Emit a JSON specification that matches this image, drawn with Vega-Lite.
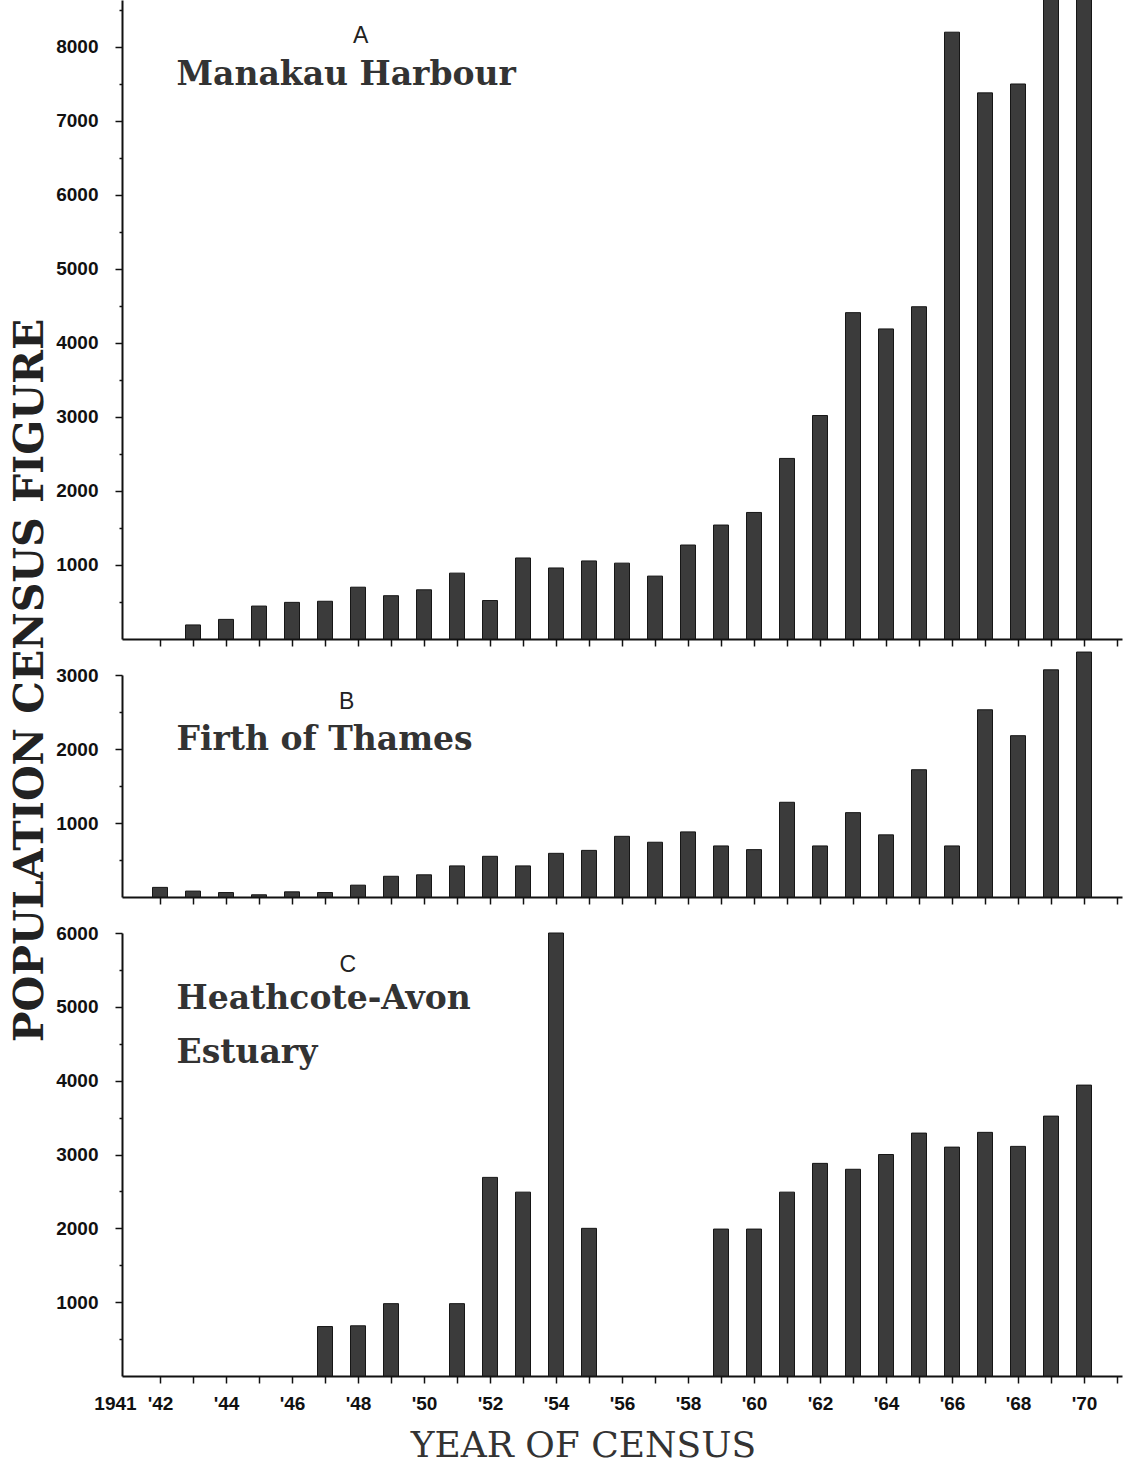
{
  "$schema": "https://vega.github.io/schema/vega-lite/v6.json",
  "background": "white",
  "padding": {"left": 8, "top": 0, "right": 4, "bottom": 4},
  "bounds": "flush",
  "spacing": 36,
  "config": {
    "view": {"stroke": null},
    "axis": {
      "grid": false,
      "domainColor": "#111111",
      "domainWidth": 2,
      "tickColor": "#111111",
      "tickWidth": 1.5,
      "labelFont": "Liberation Sans",
      "labelFontWeight": "bold",
      "labelFontSize": 19,
      "labelColor": "#111111",
      "labelOverlap": false,
      "labelFlush": false,
      "titleFont": "DejaVu Serif",
      "titleColor": "#222222"
    }
  },
  "datasets": {
    "manakau": [
      {"year": 1943, "count": 190}, {"year": 1944, "count": 265}, {"year": 1945, "count": 445},
      {"year": 1946, "count": 495}, {"year": 1947, "count": 510}, {"year": 1948, "count": 700},
      {"year": 1949, "count": 585}, {"year": 1950, "count": 665}, {"year": 1951, "count": 890},
      {"year": 1952, "count": 520}, {"year": 1953, "count": 1095}, {"year": 1954, "count": 960},
      {"year": 1955, "count": 1055}, {"year": 1956, "count": 1025}, {"year": 1957, "count": 850},
      {"year": 1958, "count": 1270}, {"year": 1959, "count": 1540}, {"year": 1960, "count": 1710},
      {"year": 1961, "count": 2440}, {"year": 1962, "count": 3020}, {"year": 1963, "count": 4410},
      {"year": 1964, "count": 4190}, {"year": 1965, "count": 4490}, {"year": 1966, "count": 8200},
      {"year": 1967, "count": 7380}, {"year": 1968, "count": 7500}, {"year": 1969, "count": 8900},
      {"year": 1970, "count": 9000}
    ],
    "thames": [
      {"year": 1942, "count": 130}, {"year": 1943, "count": 80}, {"year": 1944, "count": 60},
      {"year": 1945, "count": 30}, {"year": 1946, "count": 70}, {"year": 1947, "count": 60},
      {"year": 1948, "count": 160}, {"year": 1949, "count": 280}, {"year": 1950, "count": 300},
      {"year": 1951, "count": 420}, {"year": 1952, "count": 550}, {"year": 1953, "count": 420},
      {"year": 1954, "count": 590}, {"year": 1955, "count": 630}, {"year": 1956, "count": 820},
      {"year": 1957, "count": 740}, {"year": 1958, "count": 880}, {"year": 1959, "count": 690},
      {"year": 1960, "count": 640}, {"year": 1961, "count": 1280}, {"year": 1962, "count": 690},
      {"year": 1963, "count": 1140}, {"year": 1964, "count": 840}, {"year": 1965, "count": 1720},
      {"year": 1966, "count": 690}, {"year": 1967, "count": 2530}, {"year": 1968, "count": 2180},
      {"year": 1969, "count": 3070}, {"year": 1970, "count": 3310}
    ],
    "heathcote": [
      {"year": 1947, "count": 670}, {"year": 1948, "count": 680}, {"year": 1949, "count": 980},
      {"year": 1951, "count": 980}, {"year": 1952, "count": 2690}, {"year": 1953, "count": 2490},
      {"year": 1954, "count": 6000}, {"year": 1955, "count": 2000}, {"year": 1959, "count": 1990},
      {"year": 1960, "count": 1990}, {"year": 1961, "count": 2490}, {"year": 1962, "count": 2880},
      {"year": 1963, "count": 2800}, {"year": 1964, "count": 3000}, {"year": 1965, "count": 3290},
      {"year": 1966, "count": 3100}, {"year": 1967, "count": 3300}, {"year": 1968, "count": 3110},
      {"year": 1969, "count": 3520}, {"year": 1970, "count": 3940}
    ]
  },
  "vconcat": [
    {
      "width": 1000,
      "height": 639,
      "encoding": {
        "x": {
          "field": "year", "type": "quantitative",
          "scale": {"domain": [1941, 1971], "nice": false, "zero": false},
          "axis": {
            "title": null,
            "values": [1941, 1942, 1943, 1944, 1945, 1946, 1947, 1948, 1949, 1950, 1951, 1952, 1953, 1954, 1955, 1956, 1957, 1958, 1959, 1960, 1961, 1962, 1963, 1964, 1965, 1966, 1967, 1968, 1969, 1970, 1971],
            "labels": false,
            "tickSize": 7,
            "tickOpacity": {"condition": {"test": "datum.value == 1941", "value": 0}, "value": 1}
          }
        },
        "y": {
          "field": "count", "type": "quantitative",
          "scale": {"domain": [0, 8635], "nice": false, "zero": true},
          "axis": {
            "title": null,
            "values": [500, 1000, 1500, 2000, 2500, 3000, 3500, 4000, 4500, 5000, 5500, 6000, 6500, 7000, 7500, 8000, 8500],
            "format": "d",
            "labelExpr": "datum.value % 1000 == 0 ? datum.label : ''",
            "tickSize": {"condition": {"test": "datum.value % 1000 != 0", "value": 3}, "value": 7},
            "labelPadding": 17
          }
        }
      },
      "layer": [
        {
          "data": {"name": "manakau"},
          "mark": {"type": "bar", "orient": "vertical", "size": 15, "clip": true, "color": "#3b3b3b", "stroke": "#161616", "strokeWidth": 1}
        },
        {
          "data": {"values": [{"year": 1948.08, "count": 8054, "label": "A"}]},
          "mark": {"type": "text", "font": "Liberation Sans", "fontSize": 23, "align": "center", "baseline": "alphabetic", "color": "#222222"},
          "encoding": {"text": {"field": "label"}}
        },
        {
          "data": {"values": [{"year": 1942.5, "count": 7486, "label": "Manakau Harbour"}]},
          "mark": {"type": "text", "font": "DejaVu Serif", "fontWeight": "bold", "fontSize": 33, "align": "left", "baseline": "alphabetic", "color": "#333333"},
          "encoding": {"text": {"field": "label"}}
        }
      ]
    },
    {
      "width": 1000,
      "height": 222,
      "encoding": {
        "x": {
          "field": "year", "type": "quantitative",
          "scale": {"domain": [1941, 1971], "nice": false, "zero": false},
          "axis": {
            "title": null,
            "values": [1941, 1942, 1943, 1944, 1945, 1946, 1947, 1948, 1949, 1950, 1951, 1952, 1953, 1954, 1955, 1956, 1957, 1958, 1959, 1960, 1961, 1962, 1963, 1964, 1965, 1966, 1967, 1968, 1969, 1970, 1971],
            "labels": false,
            "tickSize": 7,
            "tickOpacity": {"condition": {"test": "datum.value == 1941", "value": 0}, "value": 1}
          }
        },
        "y": {
          "field": "count", "type": "quantitative",
          "scale": {"domain": [0, 3000], "nice": false, "zero": true},
          "axis": {
            "title": "POPULATION CENSUS FIGURE",
            "titleFont": "DejaVu Serif",
            "titleFontWeight": "bold",
            "titleFontSize": 41,
            "titleColor": "#222222",
            "titleAngle": 270,
            "titleAlign": "center",
            "titleBaseline": "top",
            "titleX": -112,
            "titleY": 5,
            "values": [500, 1000, 1500, 2000, 2500, 3000],
            "format": "d",
            "labelExpr": "datum.value % 1000 == 0 ? datum.label : ''",
            "tickSize": {"condition": {"test": "datum.value % 1000 != 0", "value": 3}, "value": 7},
            "labelPadding": 17
          }
        }
      },
      "layer": [
        {
          "data": {"name": "thames"},
          "mark": {"type": "bar", "orient": "vertical", "size": 15, "color": "#3b3b3b", "stroke": "#161616", "strokeWidth": 1}
        },
        {
          "data": {"values": [{"year": 1947.66, "count": 2540, "label": "B"}]},
          "mark": {"type": "text", "font": "Liberation Sans", "fontSize": 23, "align": "center", "baseline": "alphabetic", "color": "#222222"},
          "encoding": {"text": {"field": "label"}}
        },
        {
          "data": {"values": [{"year": 1942.5, "count": 1986, "label": "Firth of Thames"}]},
          "mark": {"type": "text", "font": "DejaVu Serif", "fontWeight": "bold", "fontSize": 33, "align": "left", "baseline": "alphabetic", "color": "#333333"},
          "encoding": {"text": {"field": "label"}}
        }
      ]
    },
    {
      "width": 1000,
      "height": 443,
      "encoding": {
        "x": {
          "field": "year", "type": "quantitative",
          "scale": {"domain": [1941, 1971], "nice": false, "zero": false},
          "axis": {
            "title": "YEAR OF CENSUS",
            "titleFont": "DejaVu Serif",
            "titleFontWeight": "normal",
            "titleFontSize": 36,
            "titleColor": "#333333",
            "titleAlign": "center",
            "titleBaseline": "alphabetic",
            "titleX": 461,
            "titleY": 80,
            "values": [1941, 1942, 1943, 1944, 1945, 1946, 1947, 1948, 1949, 1950, 1951, 1952, 1953, 1954, 1955, 1956, 1957, 1958, 1959, 1960, 1961, 1962, 1963, 1964, 1965, 1966, 1967, 1968, 1969, 1970, 1971],
            "labelExpr": "datum.value == 1941 ? '1941' : (datum.value % 2 == 0 && datum.value < 1971 ? \"'\" + slice(toString(datum.value), 2) : '')",
            "labelPadding": 11,
            "labelOffset": {"condition": {"test": "datum.value == 1941", "value": -12}, "value": 0},
            "tickSize": 7,
            "tickOpacity": {"condition": {"test": "datum.value == 1941", "value": 0}, "value": 1}
          }
        },
        "y": {
          "field": "count", "type": "quantitative",
          "scale": {"domain": [0, 6000], "nice": false, "zero": true},
          "axis": {
            "title": null,
            "values": [500, 1000, 1500, 2000, 2500, 3000, 3500, 4000, 4500, 5000, 5500, 6000],
            "format": "d",
            "labelExpr": "datum.value % 1000 == 0 ? datum.label : ''",
            "tickSize": {"condition": {"test": "datum.value % 1000 != 0", "value": 3}, "value": 7},
            "labelPadding": 17
          }
        }
      },
      "layer": [
        {
          "data": {"name": "heathcote"},
          "mark": {"type": "bar", "orient": "vertical", "size": 15, "color": "#3b3b3b", "stroke": "#161616", "strokeWidth": 1}
        },
        {
          "data": {"values": [{"year": 1947.69, "count": 5476, "label": "C"}]},
          "mark": {"type": "text", "font": "Liberation Sans", "fontSize": 23, "align": "center", "baseline": "alphabetic", "color": "#222222"},
          "encoding": {"text": {"field": "label"}}
        },
        {
          "data": {"values": [
            {"year": 1942.5, "count": 4966, "label": "Heathcote-Avon"},
            {"year": 1942.5, "count": 4244, "label": "Estuary"}
          ]},
          "mark": {"type": "text", "font": "DejaVu Serif", "fontWeight": "bold", "fontSize": 33, "align": "left", "baseline": "alphabetic", "color": "#333333"},
          "encoding": {"text": {"field": "label"}}
        }
      ]
    }
  ]
}
